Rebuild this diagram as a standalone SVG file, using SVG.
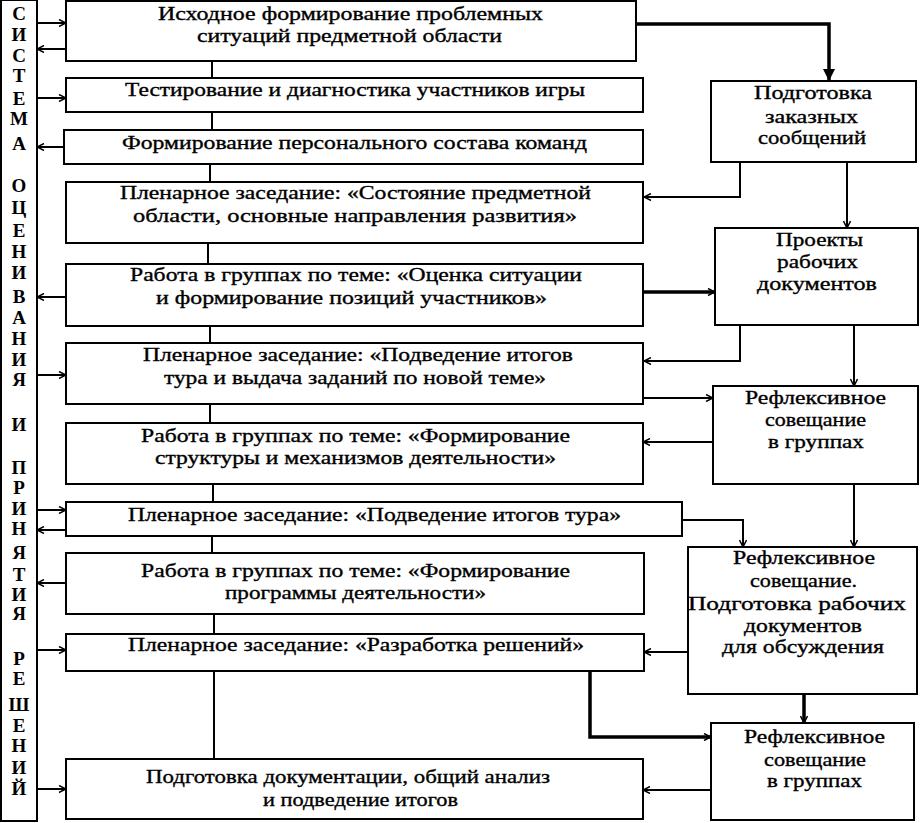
<svg xmlns="http://www.w3.org/2000/svg" width="920" height="823" viewBox="0 0 920 823">
<defs>
<style>
.box{fill:#fff;stroke:#000;stroke-width:2}
.t{font-family:"Liberation Serif","Times New Roman",serif;font-weight:normal;font-size:19px;fill:#000;stroke:#000;stroke-width:0.35}
.v{font-family:"Liberation Serif","Times New Roman",serif;font-weight:bold;font-size:19px;fill:#000;text-anchor:middle}
.c{fill:none;stroke:#000;stroke-width:2}
.k{fill:none;stroke:#000;stroke-width:3.5}
</style>
<marker id="a" viewBox="0 0 8 8" refX="8" refY="4" markerWidth="8" markerHeight="8" markerUnits="userSpaceOnUse" orient="auto">
<path d="M1,0.5 L8,4 L1,7.5" fill="none" stroke="#000" stroke-width="1.5"/>
</marker>
<marker id="f" viewBox="0 0 12 12" refX="12" refY="6" markerWidth="12" markerHeight="12" markerUnits="userSpaceOnUse" orient="auto">
<path d="M0,0 L12,6 L0,12 Z" fill="#000"/>
</marker>
</defs>
<rect width="920" height="823" fill="#fff"/>

<g id="bar">
<rect class="box" x="1" y="0" width="36" height="821"/>
<text class="v" x="19" y="20">С</text>
<text class="v" x="19" y="41">И</text>
<text class="v" x="19" y="62">С</text>
<text class="v" x="19" y="82">Т</text>
<text class="v" x="19" y="105">Е</text>
<text class="v" x="19" y="125">М</text>
<text class="v" x="19" y="150">А</text>
<text class="v" x="19" y="192">О</text>
<text class="v" x="19" y="214">Ц</text>
<text class="v" x="19" y="237">Е</text>
<text class="v" x="19" y="258">Н</text>
<text class="v" x="19" y="279">И</text>
<text class="v" x="19" y="303">В</text>
<text class="v" x="19" y="324">А</text>
<text class="v" x="19" y="345">Н</text>
<text class="v" x="19" y="366">И</text>
<text class="v" x="19" y="386">Я</text>
<text class="v" x="19" y="431">И</text>
<text class="v" x="19" y="474">П</text>
<text class="v" x="19" y="494">Р</text>
<text class="v" x="19" y="515">И</text>
<text class="v" x="19" y="535">Н</text>
<text class="v" x="19" y="559">Я</text>
<text class="v" x="19" y="581">Т</text>
<text class="v" x="19" y="601">И</text>
<text class="v" x="19" y="620">Я</text>
<text class="v" x="19" y="665">Р</text>
<text class="v" x="19" y="685">Е</text>
<text class="v" x="19" y="711">Ш</text>
<text class="v" x="19" y="732">Е</text>
<text class="v" x="19" y="752">Н</text>
<text class="v" x="19" y="774">И</text>
<text class="v" x="19" y="795">Й</text>
</g>

<g id="b1"><rect class="box" x="66" y="1" width="570" height="60"/>
<text class="t" x="158" y="20" textLength="385" lengthAdjust="spacingAndGlyphs">Исходное формирование проблемных</text>
<text class="t" x="197" y="42" textLength="305" lengthAdjust="spacingAndGlyphs">ситуаций предметной области</text></g>
<g id="b2"><rect class="box" x="66" y="78" width="577" height="34"/>
<text class="t" x="125" y="96" textLength="460" lengthAdjust="spacingAndGlyphs">Тестирование и диагностика участников игры</text></g>
<g id="b3"><rect class="box" x="64" y="130" width="579" height="34"/>
<text class="t" x="122" y="149" textLength="465" lengthAdjust="spacingAndGlyphs">Формирование персонального состава команд</text></g>
<g id="b4"><rect class="box" x="66" y="182" width="577" height="61"/>
<text class="t" x="120" y="199" textLength="471" lengthAdjust="spacingAndGlyphs">Пленарное заседание: «Состояние предметной</text>
<text class="t" x="133" y="222" textLength="444" lengthAdjust="spacingAndGlyphs">области, основные направления развития»</text></g>
<g id="b5"><rect class="box" x="66" y="264" width="577" height="62"/>
<text class="t" x="130" y="281" textLength="452" lengthAdjust="spacingAndGlyphs">Работа в группах по теме: «Оценка ситуации</text>
<text class="t" x="156" y="304" textLength="391" lengthAdjust="spacingAndGlyphs">и формирование позиций участников»</text></g>
<g id="b6"><rect class="box" x="66" y="343" width="577" height="61"/>
<text class="t" x="143" y="361" textLength="430" lengthAdjust="spacingAndGlyphs">Пленарное заседание: «Подведение итогов</text>
<text class="t" x="164" y="384" textLength="382" lengthAdjust="spacingAndGlyphs">тура и выдача заданий по новой теме»</text></g>
<g id="b7"><rect class="box" x="66" y="423" width="577" height="61"/>
<text class="t" x="141" y="442" textLength="429" lengthAdjust="spacingAndGlyphs">Работа в группах по теме: «Формирование</text>
<text class="t" x="155" y="464" textLength="401" lengthAdjust="spacingAndGlyphs">структуры и механизмов деятельности»</text></g>
<g id="b8"><rect class="box" x="66" y="502" width="616" height="34"/>
<text class="t" x="128" y="521" textLength="493" lengthAdjust="spacingAndGlyphs">Пленарное заседание: «Подведение итогов тура»</text></g>
<g id="b9"><rect class="box" x="66" y="553" width="578" height="61"/>
<text class="t" x="141" y="577" textLength="429" lengthAdjust="spacingAndGlyphs">Работа в группах по теме: «Формирование</text>
<text class="t" x="225" y="599" textLength="261" lengthAdjust="spacingAndGlyphs">программы деятельности»</text></g>
<g id="b10"><rect class="box" x="66" y="634" width="578" height="37"/>
<text class="t" x="128" y="651" textLength="456" lengthAdjust="spacingAndGlyphs">Пленарное заседание: «Разработка решений»</text></g>
<g id="b11"><rect class="box" x="66" y="759" width="577" height="60"/>
<text class="t" x="146" y="783" textLength="404" lengthAdjust="spacingAndGlyphs">Подготовка документации, общий анализ</text>
<text class="t" x="263" y="806" textLength="195" lengthAdjust="spacingAndGlyphs">и подведение итогов</text></g>

<g id="r1"><rect class="box" x="711" y="81" width="205" height="81"/>
<text class="t" x="754" y="99" textLength="118" lengthAdjust="spacingAndGlyphs">Подготовка</text>
<text class="t" x="765" y="123" textLength="93" lengthAdjust="spacingAndGlyphs">заказных</text>
<text class="t" x="758" y="144" textLength="108" lengthAdjust="spacingAndGlyphs">сообщений</text></g>
<g id="r2"><rect class="box" x="715" y="228" width="203" height="97"/>
<text class="t" x="776" y="246" textLength="87" lengthAdjust="spacingAndGlyphs">Проекты</text>
<text class="t" x="777" y="268" textLength="81" lengthAdjust="spacingAndGlyphs">рабочих</text>
<text class="t" x="757" y="290" textLength="120" lengthAdjust="spacingAndGlyphs">документов</text></g>
<g id="r3"><rect class="box" x="713" y="386" width="205" height="98"/>
<text class="t" x="745" y="404" textLength="141" lengthAdjust="spacingAndGlyphs">Рефлексивное</text>
<text class="t" x="765" y="426" textLength="101" lengthAdjust="spacingAndGlyphs">совещание</text>
<text class="t" x="768" y="448" textLength="96" lengthAdjust="spacingAndGlyphs">в группах</text></g>
<g id="r4"><rect class="box" x="688" y="547" width="229" height="147"/>
<text class="t" x="733" y="564" textLength="142" lengthAdjust="spacingAndGlyphs">Рефлексивное</text>
<text class="t" x="750" y="587" textLength="107" lengthAdjust="spacingAndGlyphs">совещание.</text>
<text class="t" x="688" y="610" textLength="218" lengthAdjust="spacingAndGlyphs">Подготовка рабочих</text>
<text class="t" x="744" y="632" textLength="118" lengthAdjust="spacingAndGlyphs">документов</text>
<text class="t" x="722" y="653" textLength="162" lengthAdjust="spacingAndGlyphs">для обсуждения</text></g>
<g id="r5"><rect class="box" x="711" y="723" width="203" height="97"/>
<text class="t" x="744" y="743" textLength="141" lengthAdjust="spacingAndGlyphs">Рефлексивное</text>
<text class="t" x="764" y="766" textLength="102" lengthAdjust="spacingAndGlyphs">совещание</text>
<text class="t" x="767" y="787" textLength="95" lengthAdjust="spacingAndGlyphs">в группах</text></g>

<g id="connectors">
<path class="c" d="M212,61 V78 M212,112 V130 M210,164 V182 M208,243 V264 M210,326 V343 M210,404 V423 M213,484 V502 M212,536 V553 M214,614 V634 M214,671 V759"/>
<path class="c" marker-end="url(#a)" d="M37,23 H66"/>
<path class="c" marker-end="url(#a)" d="M66,49 H37"/>
<path class="c" marker-end="url(#a)" d="M37,98 H66"/>
<path class="c" marker-end="url(#a)" d="M64,147 H37"/>
<path class="c" marker-end="url(#a)" d="M66,297 H37"/>
<path class="c" marker-end="url(#a)" d="M37,375 H66"/>
<path class="c" marker-end="url(#a)" d="M37,510 H66"/>
<path class="c" marker-end="url(#a)" d="M66,530 H37"/>
<path class="c" marker-end="url(#a)" d="M66,583 H37"/>
<path class="c" marker-end="url(#a)" d="M37,650 H66"/>
<path class="c" marker-end="url(#a)" d="M37,789 H66"/>

<path class="k" marker-end="url(#f)" d="M636,24 H829 V81"/>
<path class="c" marker-end="url(#a)" d="M740,162 V197 H644"/>
<path class="c" marker-end="url(#a)" d="M847,162 V228"/>
<path class="k" marker-end="url(#a)" d="M643,292 H715"/>
<path class="c" marker-end="url(#a)" d="M740,325 V361 H644"/>
<path class="c" marker-end="url(#a)" d="M854,325 V386"/>
<path class="c" marker-end="url(#a)" d="M643,398 H713"/>
<path class="c" marker-end="url(#a)" d="M713,442 H643"/>
<path class="c" marker-end="url(#a)" d="M854,484 V547"/>
<path class="c" marker-end="url(#a)" d="M682,520 H743 V547"/>
<path class="c" marker-end="url(#a)" d="M688,652 H644"/>
<path class="k" marker-end="url(#a)" d="M804,694 V723"/>
<path class="k" marker-end="url(#a)" d="M590,671 V737 H711"/>
<path class="c" marker-end="url(#a)" d="M711,790 H643"/>
</g>
</svg>
